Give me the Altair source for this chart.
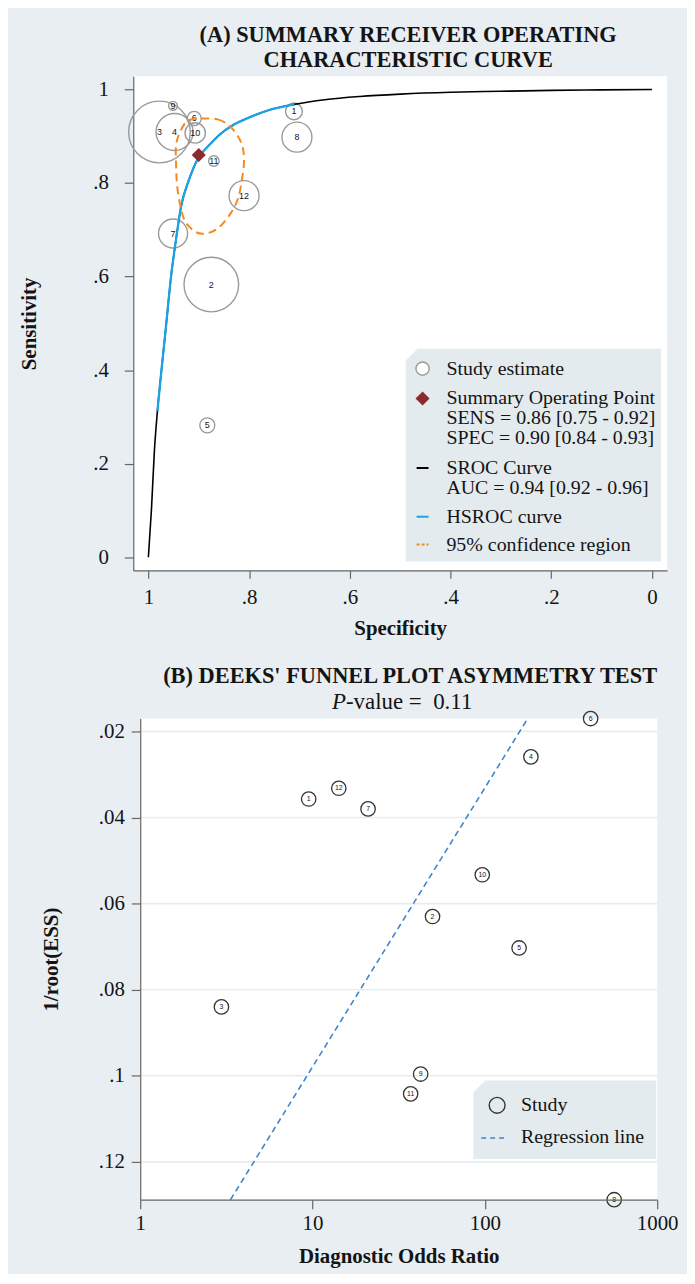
import altair as alt
import pandas as pd

# ---------------- Panel A data ----------------
study_ids = ["1", "2", "3", "4", "5", "6", "7", "8", "9", "10", "11", "12"]
study_spec = [0.711, 0.875, 0.978, 0.948, 0.883, 0.909, 0.951, 0.705, 0.951, 0.907, 0.870, 0.810]
study_sens = [0.953, 0.583, 0.909, 0.909, 0.282, 0.938, 0.692, 0.898, 0.965, 0.907, 0.847, 0.773]
study_weight = [7.4, 78.4, 100, 36, 5.9, 5.2, 22.2, 23.6, 2.1, 10.8, 2.9, 23.6]

summary_spec = [0.90]
summary_sens = [0.86]

sroc_spec = [1.000, 0.994, 0.988, 0.982, 0.974, 0.966, 0.955, 0.945, 0.935, 0.920, 0.900,
             0.880, 0.860, 0.830, 0.800, 0.760, 0.710, 0.650, 0.580, 0.500, 0.400,
             0.300, 0.200, 0.100, 0.000]
sroc_sens = [0.000, 0.100, 0.228, 0.313, 0.400, 0.483, 0.600, 0.680, 0.750, 0.805, 0.855,
             0.880, 0.902, 0.925, 0.940, 0.956, 0.968, 0.978, 0.985, 0.990, 0.994,
             0.996, 0.998, 0.999, 1.000]

hsroc_spec = [0.982, 0.974, 0.966, 0.955, 0.945, 0.935, 0.920, 0.900, 0.880, 0.860,
              0.830, 0.800, 0.760, 0.710]
hsroc_sens = [0.313, 0.400, 0.483, 0.600, 0.680, 0.750, 0.805, 0.855, 0.880, 0.902,
              0.925, 0.940, 0.956, 0.968]

ci_spec = [0.895, 0.862, 0.836, 0.816, 0.810, 0.814, 0.822, 0.838, 0.862, 0.887,
           0.907, 0.927, 0.937, 0.943, 0.945, 0.945, 0.937, 0.925, 0.907]
ci_sens = [0.938, 0.936, 0.919, 0.887, 0.851, 0.809, 0.767, 0.733, 0.703, 0.692,
           0.696, 0.718, 0.754, 0.796, 0.839, 0.881, 0.909, 0.930, 0.938]

ticksA = [0, 0.2, 0.4, 0.6, 0.8, 1]

legendA_labels = ["Study estimate",
                  "Summary Operating Point", "SENS = 0.86 [0.75 - 0.92]", "SPEC = 0.90 [0.84 - 0.93]",
                  "SROC Curve", "AUC = 0.94 [0.92 - 0.96]",
                  "HSROC curve",
                  "95% confidence region"]

# ---------------- Panel B data ----------------
deeks_dor = [9.5, 49.7, 2.96, 185, 158, 411, 21.0, 563, 42.4, 96.6, 37.1, 14.2]
deeks_ess = [0.0357, 0.0630, 0.0840, 0.0259, 0.0703, 0.0170, 0.0380, 0.1288, 0.0996, 0.0533, 0.1042, 0.0332]
reg_dor = [3.34, 176]
reg_ess = [0.1288, 0.0172]
ticksB_x = [1, 10, 100, 1000]
ticksB_y = [0.02, 0.04, 0.06, 0.08, 0.1, 0.12]
legendB_labels = ["Study", "Regression line"]
p_value_label = ["P", "-value = \u00a00.11"]

# ---------------- styles ----------------
SERIF = "Liberation Serif"
SANS = "Liberation Sans"
BG = "#e8eef1"
LEGBG = "#e4ebee"
GRID = "#e6edf0"
AXC = "#666666"
TXT = "#141414"
A_W, A_H = 537, 497
B_SHIFT = 7              # panel B plot starts a little right of panel A's
B_W, B_H = 520 + B_SHIFT, 484
LAB = "replace(format(datum.value, '.2~f'), '0.', '.')"

one = pd.DataFrame({"k": [0]})

dfA = pd.DataFrame({"id": study_ids, "spec": study_spec, "sens": study_sens, "weight": study_weight})
dfSum = pd.DataFrame({"spec": summary_spec, "sens": summary_sens})
dfSroc = pd.DataFrame({"spec": sroc_spec, "sens": sroc_sens, "idx": range(len(sroc_spec))})
dfH = pd.DataFrame({"spec": hsroc_spec, "sens": hsroc_sens, "idx": range(len(hsroc_spec))})
dfCI = pd.DataFrame({"spec": ci_spec, "sens": ci_sens, "idx": range(len(ci_spec))})

xA = alt.X("spec:Q",
           scale=alt.Scale(domain=[-0.03, 1.03], reverse=True, nice=False, zero=False),
           axis=alt.Axis(values=ticksA, labelExpr=LAB, title="Specificity",
                         tickSize=8, labelPadding=8, titlePadding=10, grid=False))
yA = alt.Y("sens:Q",
           scale=alt.Scale(domain=[-0.028, 1.028], nice=False, zero=False),
           axis=alt.Axis(values=ticksA, labelExpr=LAB, title="Sensitivity",
                         tickSize=9, labelPadding=16, titlePadding=54, grid=False))

circlesA = alt.Chart(dfA).mark_point(filled=False, color="#9a9a9a", strokeWidth=1.4, opacity=1).encode(
    x=xA, y=yA,
    size=alt.Size("weight:Q", scale=alt.Scale(domain=[0, 100], range=[0, 3850]), legend=None))
labelsA = alt.Chart(dfA).mark_text(font=SANS, fontSize=9, color=TXT).encode(x=xA, y=yA, text="id:N")
srocA = alt.Chart(dfSroc).mark_line(color="black", strokeWidth=1.6, interpolate="monotone").encode(
    x=xA, y=yA, order="idx:Q")
hsrocA = alt.Chart(dfH).mark_line(color="#1aa3e6", strokeWidth=2.3, interpolate="monotone").encode(
    x=xA, y=yA, order="idx:Q")
ciA = alt.Chart(dfCI).mark_line(color="#f28b22", strokeWidth=2, strokeDash=[8, 5],
                                interpolate="cardinal-closed").encode(x=xA, y=yA, order="idx:Q")
sumA = alt.Chart(dfSum).mark_point(shape="diamond", filled=True, color="#8a2b2e", size=200, opacity=1).encode(
    x=xA, y=yA)

# legend A (decoration)
legA = [alt.Chart(one).mark_point(
    shape="M-0.907,-0.833L1,-0.833L1,0.833L-1,0.833L-1,-0.740Z",
    filled=True, fill=LEGBG, strokeWidth=0, size=66049, opacity=1
).encode(x=alt.value(402.5), y=alt.value(381))]
legA.append(alt.Chart(one).mark_point(filled=True, fill="white", stroke="#9a9a9a", strokeWidth=1.4,
                                      size=180, opacity=1).encode(x=alt.value(291), y=alt.value(294)))
legA.append(alt.Chart(one).mark_point(shape="diamond", filled=True, color="#8a2b2e", size=200,
                                      opacity=1).encode(x=alt.value(291), y=alt.value(324)))
legA.append(alt.Chart(one).mark_rule(color="black", strokeWidth=2).encode(
    x=alt.value(285), x2=alt.value(297), y=alt.value(394)))
legA.append(alt.Chart(one).mark_rule(color="#1aa3e6", strokeWidth=2).encode(
    x=alt.value(285), x2=alt.value(297), y=alt.value(443)))
legA.append(alt.Chart(one).mark_rule(color="#f28b22", strokeWidth=2, strokeDash=[3, 2]).encode(
    x=alt.value(285), x2=alt.value(297), y=alt.value(471)))
rowsA = [294, 324, 344, 364, 394, 414, 443, 471]
for lab, yy in zip(legendA_labels, rowsA):
    legA.append(alt.Chart(one).mark_text(text=lab, font=SERIF, fontSize=20, color=TXT, align="left",
                                         baseline="middle").encode(x=alt.value(315), y=alt.value(yy)))

panelA = alt.layer(circlesA, labelsA, srocA, hsrocA, ciA, sumA, *legA).properties(
    width=A_W, height=A_H,
    title=alt.TitleParams(text=["(A) SUMMARY RECEIVER OPERATING", "CHARACTERISTIC CURVE"],
                          font=SERIF, fontSize=22.5, fontWeight="bold", color=TXT, anchor="middle",
                          frame="group", offset=5, lineHeight=25, dx=8))

# ---------------- Panel B ----------------
dfB = pd.DataFrame({"id": study_ids, "dor": deeks_dor, "ess": deeks_ess})
dfReg = pd.DataFrame({"dor": reg_dor, "ess": reg_ess})
dfGrid = pd.DataFrame({"ess": ticksB_y})

xB = alt.X("dor:Q",
           scale=alt.Scale(type="log", domain=[1, 1000], nice=False, range=[B_SHIFT, B_W]),
           axis=alt.Axis(values=ticksB_x, format="d", title="Diagnostic Odds Ratio",
                         tickSize=9, labelPadding=4, titlePadding=12, grid=False, zindex=1))
yB = alt.Y("ess:Q",
           scale=alt.Scale(domain=[0.017, 0.1288], reverse=True, nice=False, zero=False),
           axis=alt.Axis(values=ticksB_y, labelExpr=LAB, title="1/root(ESS)", offset=-B_SHIFT,
                         tickSize=9, labelPadding=7, titlePadding=37, grid=False, zindex=1))

plotbgB = alt.Chart(one).mark_rect(color="white").encode(
    x=alt.value(B_SHIFT), x2=alt.value(B_W), y=alt.value(0), y2=alt.value(B_H))
gridB = alt.Chart(dfGrid).mark_rule(color=GRID, strokeWidth=1.6).encode(
    y=yB, x=alt.value(B_SHIFT), x2=alt.value(B_W))
ptsB = alt.Chart(dfB).mark_point(filled=False, color="#333333", strokeWidth=1.3, size=210, opacity=1).encode(
    x=xB, y=yB)
labB = alt.Chart(dfB).mark_text(font=SANS, fontSize=7, color=TXT).encode(x=xB, y=yB, text="id:N")
regB = alt.Chart(dfReg).mark_line(color="#3f86cc", strokeWidth=1.6, strokeDash=[6, 4]).encode(x=xB, y=yB)

legB = []
legB.append(alt.Chart(one).mark_point(
    shape="M-0.87,-0.429L1,-0.429L1,0.429L-1,0.429L-1,-0.299Z",
    filled=True, fill=LEGBG, strokeWidth=0, size=33856, opacity=1
).encode(x=alt.value(434), y=alt.value(403.5)))
legB.append(alt.Chart(one).mark_point(filled=False, color="#333333", strokeWidth=1.4, size=254,
                                      opacity=1).encode(x=alt.value(366), y=alt.value(389)))
legB.append(alt.Chart(one).mark_rule(color="#3f86cc", strokeWidth=1.6, strokeDash=[5, 4]).encode(
    x=alt.value(350), x2=alt.value(376), y=alt.value(422)))
for lab, yy in zip(legendB_labels, [389, 421]):
    legB.append(alt.Chart(one).mark_text(text=lab, font=SERIF, fontSize=20, color=TXT, align="left",
                                         baseline="middle").encode(x=alt.value(390), y=alt.value(yy)))
# subtitle with italic P
legB.append(alt.Chart(one).mark_text(text=p_value_label[0], font=SERIF, fontSize=23, fontStyle="italic",
                                     color=TXT, align="right", baseline="middle").encode(
    x=alt.value(214), y=alt.value(-17)))
legB.append(alt.Chart(one).mark_text(text=p_value_label[1], font=SERIF, fontSize=23, color=TXT,
                                     align="left", baseline="middle").encode(
    x=alt.value(214), y=alt.value(-17)))

panelB = alt.layer(plotbgB, gridB, regB, ptsB, labB, *legB).properties(
    width=B_W, height=B_H,
    view=alt.ViewBackground(fill="transparent", stroke="transparent"),
    title=alt.TitleParams(text="(B) DEEKS' FUNNEL PLOT ASYMMETRY TEST",
                          font=SERIF, fontSize=22.5, fontWeight="bold", color=TXT, anchor="middle",
                          frame="group", offset=3, dx=15))

chart = alt.concat(panelA, panelB, columns=1, spacing=27, bounds="full").properties(
    background=BG,
    padding={"left": 10, "top": 12, "right": 8, "bottom": 3},
).configure_view(fill="white", stroke=None).configure_axis(
    labelFont=SERIF, labelFontSize=21, labelColor=TXT, titleFont=SERIF, titleFontSize=21,
    titleFontWeight="bold", titleColor=TXT, domainColor=AXC, tickColor=AXC, domainWidth=1.2,
    tickWidth=1.2, labelFlush=False, labelOverlap=False, labelBound=False)

chart.save("out.html", embed_options={"renderer": "svg", "actions": False})
